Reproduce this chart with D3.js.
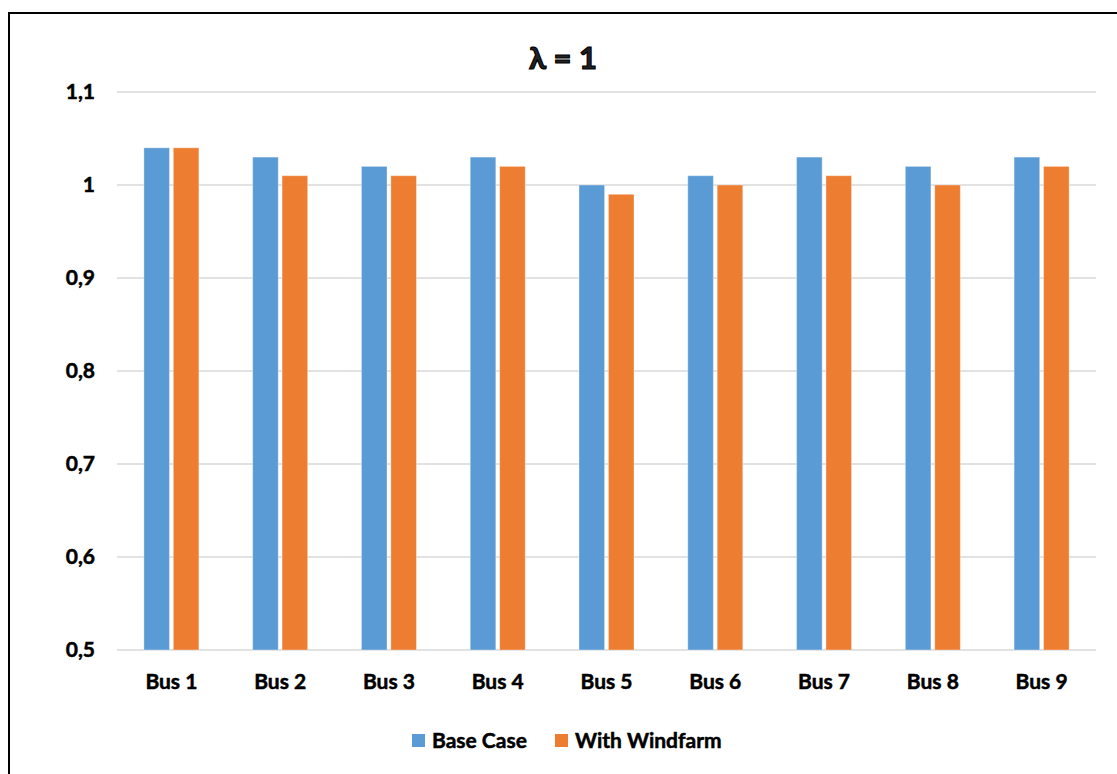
<!DOCTYPE html>
<html>
<head>
<meta charset="utf-8">
<script src="https://cdn.jsdelivr.net/npm/d3@7"></script>
<style>
  html, body { margin: 0; padding: 0; background: #fff; }
  svg { display: block; font-family: Lato, "Open Sans", sans-serif; }
</style>
</head>
<body>
<svg id="chart" width="1117" height="774"></svg>
<script>
// Bus voltage magnitudes (p.u.) at load factor λ = 1
const categories = ["Bus 1", "Bus 2", "Bus 3", "Bus 4", "Bus 5", "Bus 6", "Bus 7", "Bus 8", "Bus 9"];
const baseCase   = [1.04, 1.03, 1.02, 1.03, 1.00, 1.01, 1.03, 1.02, 1.03];
const windfarm   = [1.04, 1.01, 1.01, 1.02, 0.99, 1.00, 1.01, 1.00, 1.02];
const seriesNames = ["Base Case", "With Windfarm"];
const seriesColors = ["#5b9bd5", "#ed7d31"];
const yTicks = [0.5, 0.6, 0.7, 0.8, 0.9, 1.0, 1.1];
const yTickLabels = ["0,5", "0,6", "0,7", "0,8", "0,9", "1", "1,1"];

const svg = d3.select("#chart");
const FONT = "Lato, sans-serif";

// heavy label styling shared by axes and legend
function heavy(sel, size) {
  sel.attr("font-size", size).attr("font-weight", 700)
    .attr("font-family", FONT).attr("fill", "#000")
    .attr("stroke", "#000").attr("stroke-width", 0.5);
}

// outer chart frame
svg.append("rect")
  .attr("x", 9).attr("y", 13)
  .attr("width", 1120).attr("height", 780)
  .attr("fill", "none").attr("stroke", "#000").attr("stroke-width", 2);

const plot = { left: 117, right: 1096, top: 92, bottom: 650 };

const x = d3.scaleBand().domain(categories).range([plot.left, plot.right]);
const xInner = d3.scaleBand().domain(seriesNames).range([0, 55]).paddingInner(0.13);
const y = d3.scaleLinear().domain([0.5, 1.1]).range([plot.bottom, plot.top]);

// gridlines
svg.append("g").selectAll("line").data(yTicks).join("line")
  .attr("x1", plot.left).attr("x2", plot.right)
  .attr("y1", d => y(d)).attr("y2", d => y(d))
  .attr("stroke", "#d9d9d9").attr("stroke-width", 1.5);

// y axis labels
const yAxis = d3.axisLeft(y).tickValues(yTicks)
  .tickFormat((d, i) => yTickLabels[i]).tickSize(0).tickPadding(0);
svg.append("g")
  .attr("transform", `translate(${plot.left - 22},0)`)
  .call(yAxis)
  .call(g => g.select(".domain").remove())
  .call(g => heavy(g.selectAll("text"), 21));

// bars
const rows = categories.map((c, i) => ({ cat: c, vals: [baseCase[i], windfarm[i]] }));
const groupOffset = (x.bandwidth() - 55) / 2;
const groups = svg.append("g").selectAll("g").data(rows).join("g")
  .attr("transform", d => `translate(${x(d.cat) + groupOffset},0)`);
groups.selectAll("rect")
  .data(d => d.vals.map((v, j) => ({ name: seriesNames[j], v, j })))
  .join("rect")
  .attr("x", d => xInner(d.name))
  .attr("width", xInner.bandwidth())
  .attr("y", d => y(d.v))
  .attr("height", d => y(0.5) - y(d.v))
  .attr("fill", d => seriesColors[d.j])
  .attr("stroke", "#fff").attr("stroke-opacity", 0.35).attr("stroke-width", 1);

// x axis labels
const xAxis = d3.axisBottom(x).tickSize(0).tickPadding(0);
svg.append("g")
  .attr("transform", `translate(0,${plot.bottom + 39})`)
  .call(xAxis)
  .call(g => g.select(".domain").remove())
  .call(g => heavy(g.selectAll("text").attr("dy", 0), 21));

// title
svg.append("text")
  .attr("x", 563).attr("y", 69)
  .attr("text-anchor", "middle")
  .attr("font-size", 31).attr("font-weight", 700)
  .attr("font-family", FONT)
  .attr("fill", "#222").attr("stroke", "#000").attr("stroke-width", 1.2)
  .text("λ = 1");

// legend
const legendX = [412, 555];
const legend = svg.append("g").selectAll("g").data(seriesNames).join("g")
  .attr("transform", (d, i) => `translate(${legendX[i]},734)`);
legend.append("rect")
  .attr("width", 13).attr("height", 13)
  .attr("fill", (d, i) => seriesColors[i]);
legend.append("text")
  .attr("x", 20).attr("y", 14)
  .text(d => d)
  .call(t => heavy(t, 21));
</script>
</body>
</html>
